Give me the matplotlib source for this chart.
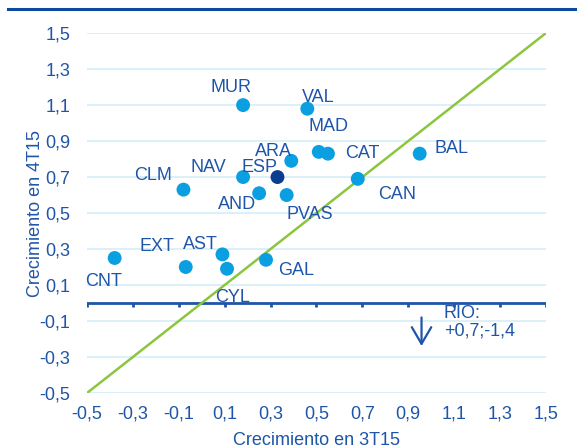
import numpy as np
import matplotlib.pyplot as plt

plt.rcParams['font.family'] = ['Liberation Sans', 'DejaVu Sans']

regions = ["MUR", "VAL", "MAD", "CAT", "BAL", "CAN", "ARA", "ESP", "NAV", "CLM",
           "AND", "PVAS", "CNT", "EXT", "AST", "CYL", "GAL"]
x_3t15 = [0.18, 0.46, 0.51, 0.55, 0.95, 0.68, 0.39, 0.33, 0.18, -0.08,
          0.25, 0.37, -0.38, -0.07, 0.09, 0.11, 0.28]
y_4t15 = [1.10, 1.08, 0.84, 0.83, 0.83, 0.69, 0.79, 0.70, 0.70, 0.63,
          0.61, 0.60, 0.25, 0.20, 0.27, 0.19, 0.24]
# label offsets in points (dx, dy)
offsets = {"MUR": (-9, 13), "VAL": (8, 8), "MAD": (7, 18), "CAT": (25, 0),
           "BAL": (23, 4), "CAN": (28, -11), "ARA": (-13, 7), "ESP": (-13, 7),
           "NAV": (-25, 7), "CLM": (-22, 10), "AND": (-16, -8), "PVAS": (17, -14),
           "CNT": (-8, -17), "EXT": (-21, 15), "AST": (-16, 7), "CYL": (4, -21),
           "GAL": (22, -8)}
ticks = [-0.5, -0.3, -0.1, 0.1, 0.3, 0.5, 0.7, 0.9, 1.1, 1.3, 1.5]

blue_txt = "#1F55A8"
dot = "#0A9FE0"
dark = "#0B3D8F"
fs = 13

fig = plt.figure(figsize=(5.77, 4.48), dpi=100)
ax = fig.add_axes([0.151, 0.123, 0.795, 0.803])

colors = [dark if r == "ESP" else dot for r in regions]
ax.plot([-0.5, 1.5], [-0.5, 1.5], color="#8CC63E", lw=1.8, zorder=2)
ax.scatter(x_3t15, y_4t15, s=100, c=colors, zorder=3, linewidths=0)
for r, xv, yv in zip(regions, x_3t15, y_4t15):
    dx, dy = offsets[r]
    ax.annotate(r, (xv, yv), xytext=(dx, dy), textcoords="offset points",
                ha="center", va="center", fontsize=fs, color=blue_txt, zorder=4)

ax.set_xlim(-0.5, 1.5)
ax.set_ylim(-0.5, 1.5)
ax.set_xticks(ticks)
ax.set_yticks(ticks)
fmt = lambda v: f"{v:.1f}".replace(".", ",")
ax.set_xticklabels([fmt(t) for t in ticks])
ax.set_yticklabels([fmt(t) for t in ticks])
ax.tick_params(axis="y", length=0, labelsize=fs, colors=blue_txt, pad=12)
ax.tick_params(axis="x", length=0, labelsize=fs, colors=blue_txt, pad=9)
for s in ax.spines.values():
    s.set_visible(False)
ax.grid(axis="y", color="#D6EEF8", lw=1.2, zorder=0)
ax.set_axisbelow(True)

# horizontal axis at zero with downward ticks
ax.axhline(0, color="#1F55A8", lw=2, zorder=1)
for t in ticks:
    ax.plot([t, t], [0, -0.025], color="#1F55A8", lw=2, zorder=1, solid_capstyle="butt")

ax.annotate("", xy=(0.958, -0.255), xytext=(0.958, -0.065),
            arrowprops=dict(arrowstyle="->,head_length=0.6,head_width=0.35",
                            color="#1F55A8", lw=1.6, mutation_scale=20))
ax.text(1.055, -0.01, "RIO:\n+0,7;-1,4", fontsize=fs, color=blue_txt,
        ha="left", va="top", linespacing=1.05)

ax.set_xlabel("Crecimiento en 3T15", fontsize=fs, color=blue_txt, labelpad=7)
ax.set_ylabel("Crecimiento en 4T15", fontsize=fs, color=blue_txt, labelpad=-3)

fig.add_artist(plt.Line2D([0.014, 1.0], [0.98, 0.98], color="#0B4A9E", lw=2.2))

fig.savefig("out.png", dpi=100)
